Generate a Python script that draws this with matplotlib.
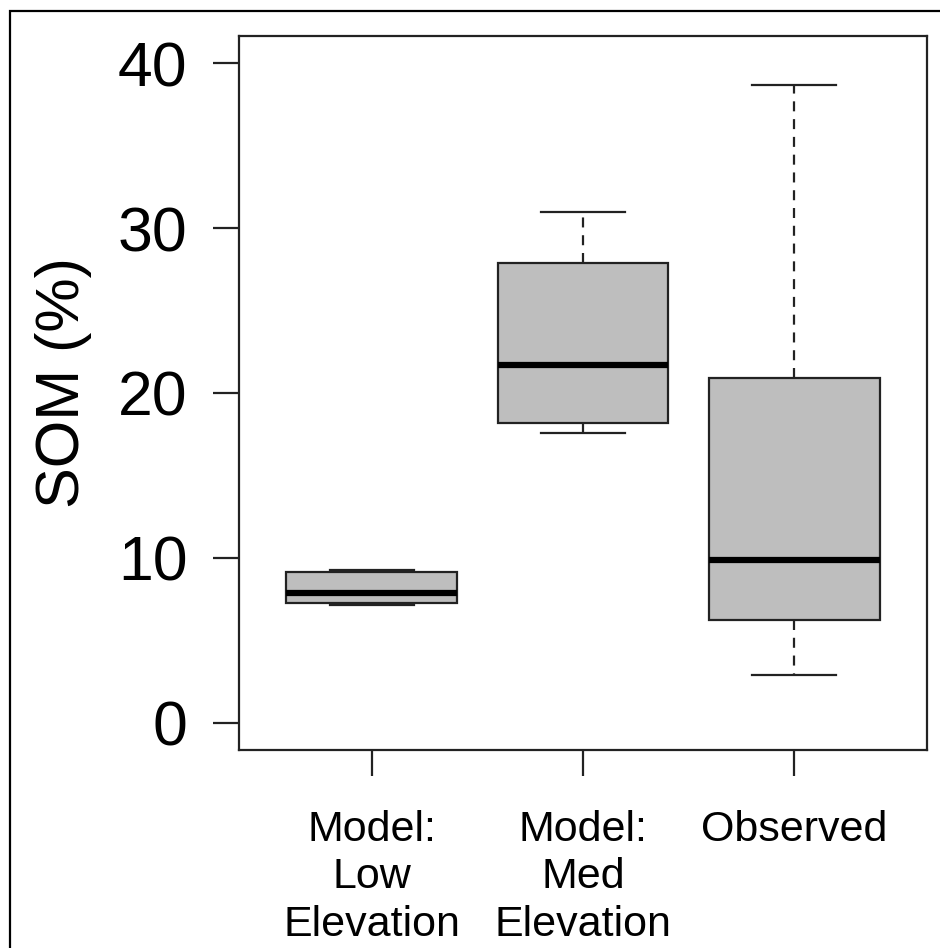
import matplotlib.pyplot as plt
from matplotlib.patches import Rectangle

plt.rcParams['font.family'] = ['Liberation Sans', 'DejaVu Sans']

# five-number summaries per group
groups = ['Model:\nLow\nElevation', 'Model:\nMed\nElevation', 'Observed']
whisker_low = [7.15, 17.6, 2.9]
q1 = [7.3, 18.2, 6.25]
median = [7.9, 21.7, 9.9]
q3 = [9.15, 27.9, 20.9]
whisker_high = [9.3, 31.0, 38.7]

yticks = [0, 10, 20, 30, 40]

stats = []
for i in range(len(groups)):
    stats.append({'whislo': whisker_low[i], 'q1': q1[i], 'med': median[i],
                  'q3': q3[i], 'whishi': whisker_high[i], 'fliers': []})

fig = plt.figure(figsize=(9.4, 9.48), dpi=100)
ax = fig.add_axes([239 / 940, 1 - 750 / 948, 688 / 940, 714 / 948])

edge = '#222222'
ax.bxp(stats, positions=[1, 2, 3], widths=0.81, patch_artist=True,
       showfliers=False,
       boxprops=dict(facecolor='#bebebe', edgecolor=edge, linewidth=1.6),
       medianprops=dict(color='black', linewidth=4.5, solid_capstyle='butt'),
       whiskerprops=dict(color=edge, linewidth=1.6, linestyle=(0, (4.5, 3.5))),
       capprops=dict(color=edge, linewidth=1.6),
       capwidths=0.4)

ax.set_xlim(0.37, 3.63)
ax.set_ylim(-1.64, 41.64)
ax.set_yticks(yticks)
ax.set_xticks([1, 2, 3])
ax.set_xticklabels(groups, fontsize=31, linespacing=1.24)
ax.tick_params(axis='y', labelsize=45, length=19, width=1.6, pad=18, color=edge)
ax.tick_params(axis='x', length=19, width=1.6, pad=24, color=edge)
for s in ax.spines.values():
    s.set_linewidth(1.6)
    s.set_color(edge)
ax.set_ylabel('SOM (%)', fontsize=44)
ax.yaxis.set_label_coords(-0.214, 0.515)

# frame around the whole figure
fig.patches.append(Rectangle((10 / 940, -0.1), 1.2, 1 - 11 / 948 + 0.1,
                             transform=fig.transFigure, fill=False,
                             edgecolor='black', linewidth=1.6))

fig.savefig('out.png', dpi=100)
